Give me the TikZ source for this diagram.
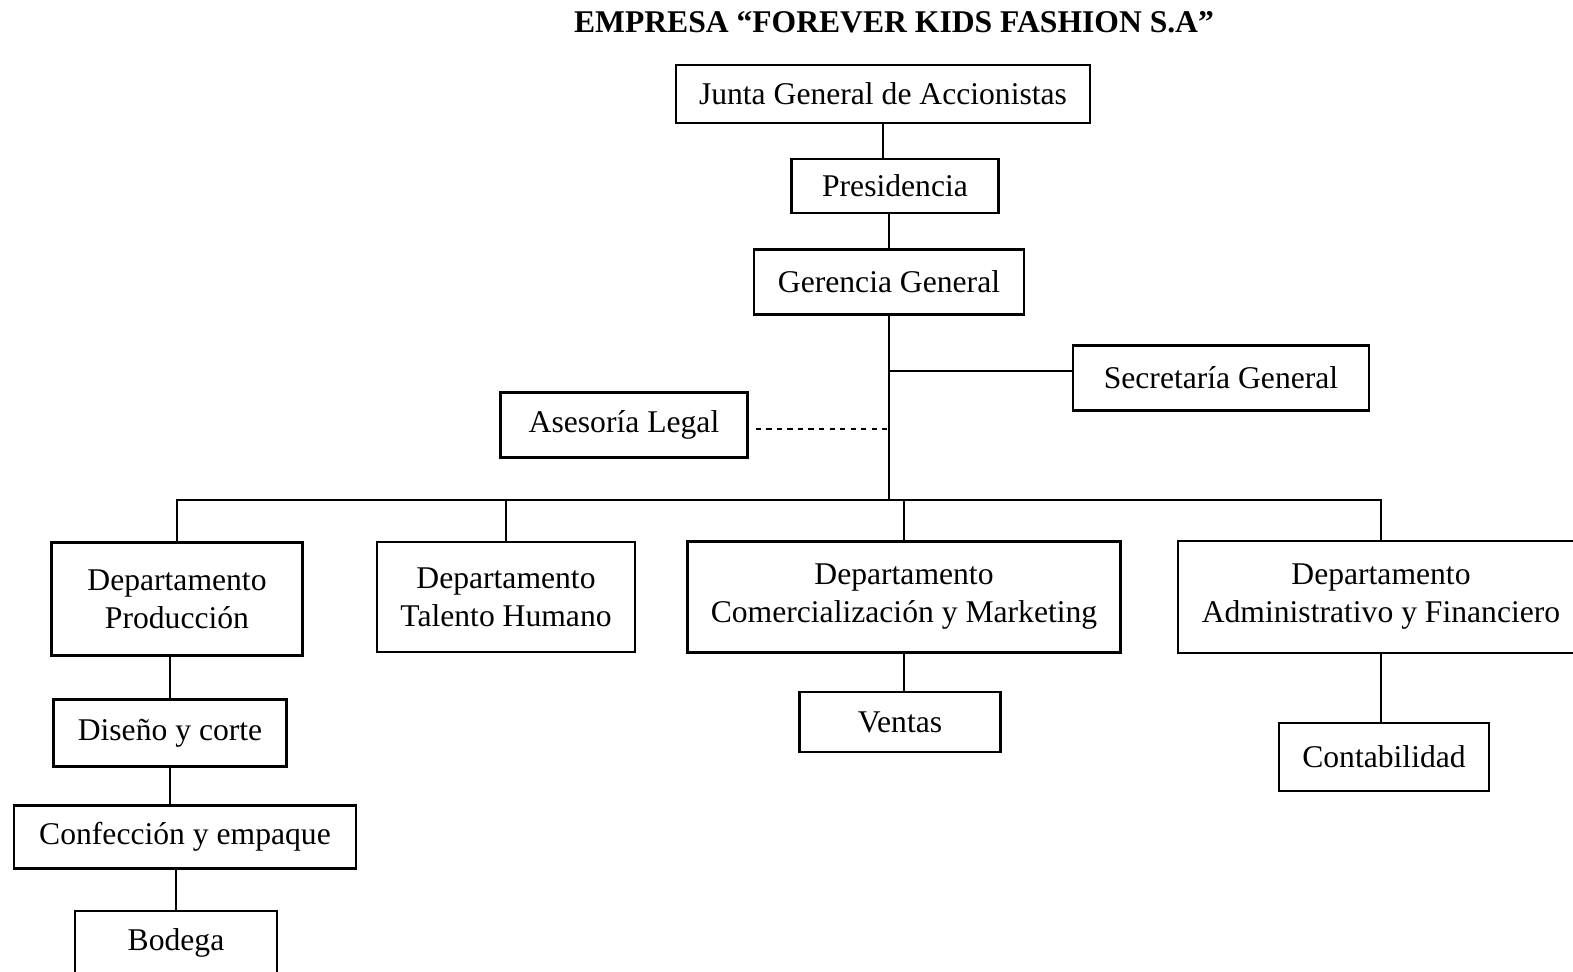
\documentclass[tikz,border=0pt]{standalone}
\usepackage{fontspec}
\setmainfont{Liberation Serif}
\begin{document}
\begin{tikzpicture}[x=0.02cm, y=-0.02cm, line width=1.4pt]
    \tikzstyle{caja}=[draw, line width=1.4pt, align=center, inner sep=0pt, font=\fontsize{18}{21.6}\selectfont]
    \tikzstyle{linea}=[line width=1.4pt]

    \useasboundingbox (0,0) rectangle (1573,971);
    \clip (0,0) rectangle (1573,971);

    \node[font=\bfseries\fontsize{18}{21.6}\selectfont] (titulo) at (894,22) {EMPRESA “FOREVER KIDS FASHION S.A”};

    % direccion
    \node[caja, minimum width=8.28cm, minimum height=1.16cm] (junta) at (883,94) {Junta General de Accionistas};
    \node[caja, minimum width=4.14cm, minimum height=1.08cm] (presi) at (895,186) {Presidencia};
    \node[caja, minimum width=5.4cm, minimum height=1.3cm] (geren) at (889,282) {Gerencia General};
    \node[caja, minimum width=5.92cm, minimum height=1.3cm] (secre) at (1221,378) {Secretaría General};
    \node[caja, minimum width=4.94cm, minimum height=1.3cm] (aseso) at (624,425) {Asesoría Legal};

    % departamentos
    \node[caja, minimum width=5.02cm, minimum height=2.26cm] (prod) at (177,599) {Departamento\\Producción};
    \node[caja, minimum width=5.16cm, minimum height=2.2cm] (talento) at (506,597) {Departamento\\Talento Humano};
    \node[caja, minimum width=8.66cm, minimum height=2.22cm] (comer) at (904,597) {Departamento\\Comercialización y Marketing};
    \node[caja, minimum width=8.12cm, minimum height=2.24cm] (admin) at (1381,597) {Departamento\\Administrativo y Financiero};

    % secciones
    \node[caja, minimum width=4.66cm, minimum height=1.34cm] (diseno) at (170,733) {Diseño y corte};
    \node[caja, minimum width=6.84cm, minimum height=1.26cm] (confec) at (185,837) {Confección y empaque};
    \node[caja, minimum width=4.04cm, minimum height=1.28cm] (bodega) at (176,943) {Bodega};
    \node[caja, minimum width=4.02cm, minimum height=1.2cm] (ventas) at (900,722) {Ventas};
    \node[caja, minimum width=4.2cm, minimum height=1.36cm] (conta) at (1384,757) {Contabilidad};

    \coordinate (bus) at (888,500);

    \draw[linea] (junta.south) -- (junta.south |- presi.north);
    \draw[linea] (geren.north |- presi.south) -- (geren.north);
    \draw[linea] (geren.south) -- (geren.south |- bus);
    \draw[linea] ([yshift=0.14cm]secre.west) -- ([yshift=0.14cm]secre.west -| geren.south);
    \draw[linea, dashed, shorten <=0.14cm] ([yshift=-0.08cm]aseso.east) -- ([yshift=-0.08cm]aseso.east -| geren.south);

    \draw[linea] (prod.north) |- (admin.north |- bus) -- (admin.north);
    \draw[linea] (talento.north) -- (talento.north |- bus);
    \draw[linea] (comer.north) -- (comer.north |- bus);

    \draw[linea] (diseno.north |- prod.south) -- (diseno.north);
    \draw[linea] (diseno.south) -- (diseno.south |- confec.north);
    \draw[linea] (bodega.north |- confec.south) -- (bodega.north);
    \draw[linea] (comer.south) -- (comer.south |- ventas.north);
    \draw[linea] (admin.south) -- (admin.south |- conta.north);

\end{tikzpicture}
\end{document}
